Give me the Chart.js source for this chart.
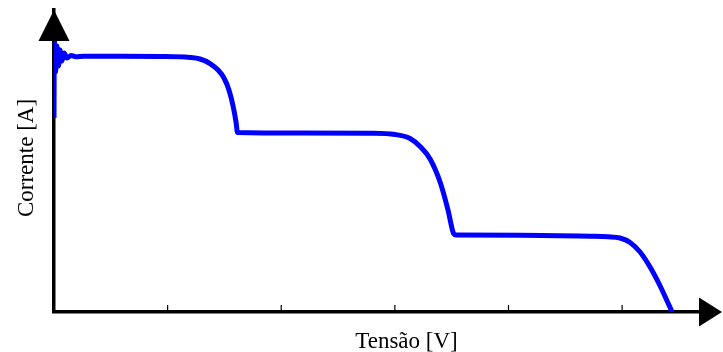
<!DOCTYPE html>
<html>
<head>
<meta charset="utf-8">
<script src="https://cdn.jsdelivr.net/npm/chart.js@4/dist/chart.umd.min.js"></script>
<style>
    html, body { margin: 0; padding: 0; background: #fff; }
    #wrap { width: 723px; height: 352px; }
</style>
</head>
<body>
<div id="wrap"><canvas id="curve"></canvas></div>
<script>
// tensao (eixo x, 1 = uma divisao) e corrente (eixo y)
var tensao = [0, 0.003, 0.013, 0.026, 0.040, 0.053, 0.070, 0.088, 0.114, 0.150, 0.194, 0.264,
    0.581, 0.933, 1.197, 1.285, 1.373, 1.444, 1.496, 1.540, 1.576, 1.602, 1.615,
    2.165, 2.782, 3.002, 3.134, 3.222, 3.310, 3.398, 3.468, 3.517, 3.539,
    4.102, 4.718, 4.877, 4.982, 5.070, 5.158, 5.246, 5.335, 5.396, 5.440];
var corrente = [6.424, 9.007, 7.947, 8.808, 8.146, 8.675, 8.311, 8.576, 8.411, 8.493, 8.450, 8.467,
    8.467, 8.460, 8.427, 8.377, 8.228, 8.013, 7.748, 7.351, 6.821, 6.291, 5.944,
    5.927, 5.917, 5.877, 5.745, 5.480, 5.066, 4.305, 3.377, 2.599, 2.550,
    2.540, 2.507, 2.490, 2.450, 2.301, 1.987, 1.490, 0.861, 0.364, 0];
var divisoes = [1, 2, 3, 4, 5];
var tituloX = 'Tensão [V]';
var tituloY = 'Corrente [A]';

var pontos = [];
for (var i = 0; i < tensao.length; i++) {
    pontos.push({ x: tensao[i], y: corrente[i] });
}

var eixos = {
    id: 'eixos',
    afterDraw: function (chart) {
        var ctx = chart.ctx;
        var area = chart.chartArea;
        var sx = chart.scales.x;
        ctx.save();
        // marcas do eixo x, para cima
        ctx.strokeStyle = '#000';
        ctx.lineWidth = 1.2;
        divisoes.forEach(function (d) {
            var px = sx.getPixelForValue(d);
            ctx.beginPath();
            ctx.moveTo(px, area.bottom);
            ctx.lineTo(px, area.bottom - 7);
            ctx.stroke();
        });
        // setas
        ctx.fillStyle = '#000';
        ctx.beginPath();
        ctx.moveTo(area.left, area.top);
        ctx.lineTo(area.left - 15.5, area.top + 31);
        ctx.lineTo(area.left + 15.5, area.top + 31);
        ctx.closePath();
        ctx.fill();
        ctx.beginPath();
        ctx.moveTo(area.right + 9, area.bottom);
        ctx.lineTo(area.right - 14, area.bottom - 14.5);
        ctx.lineTo(area.right - 14, area.bottom + 14.5);
        ctx.closePath();
        ctx.fill();
        // titulos
        ctx.font = '23px "Liberation Serif", "Times New Roman", serif';
        ctx.textAlign = 'center';
        ctx.textBaseline = 'alphabetic';
        ctx.fillText(tituloX, 406.5, 348);
        ctx.translate(32.5, 158);
        ctx.rotate(-Math.PI / 2);
        ctx.fillText(tituloY, 0, 0);
        ctx.restore();
    }
};

new Chart(document.getElementById('curve'), {
    type: 'line',
    data: {
        datasets: [{
            data: pontos,
            borderColor: '#0000ff',
            borderWidth: 5,
            borderJoinStyle: 'round',
            pointRadius: 0,
            fill: false,
            cubicInterpolationMode: 'monotone'
        }]
    },
    options: {
        responsive: true,
        maintainAspectRatio: false,
        animation: false,
        layout: { padding: { top: 10, right: 10, left: 0, bottom: 0 } },
        plugins: { legend: { display: false }, tooltip: { enabled: false } },
        scales: {
            x: {
                type: 'linear',
                min: 0,
                max: 5.8,
                ticks: { display: false },
                grid: { display: false },
                border: { display: true, color: '#000', width: 3.5 },
                afterFit: function (s) { s.height = 40; }
            },
            y: {
                min: 0,
                max: 10,
                ticks: { display: false },
                grid: { display: false },
                border: { display: true, color: '#000', width: 3.5 },
                afterFit: function (s) { s.width = 54; }
            }
        }
    },
    plugins: [eixos]
});
</script>
</body>
</html>
